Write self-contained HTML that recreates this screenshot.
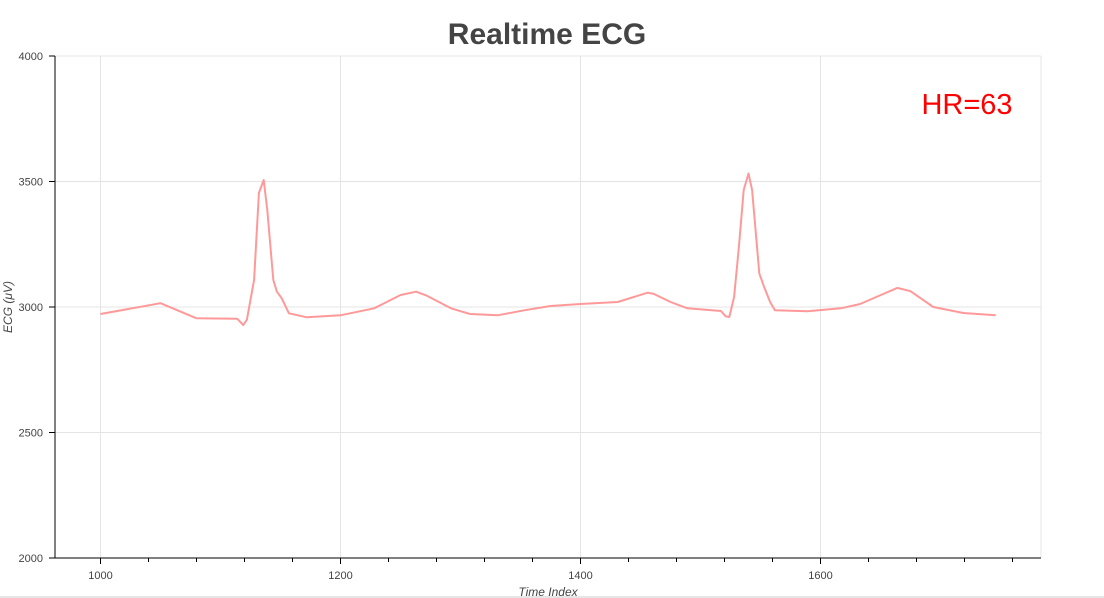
<!DOCTYPE html>
<html><head><meta charset="utf-8"><style>
body{margin:0;background:#fff;width:1104px;height:598px;overflow:hidden}
svg{display:block;font-family:"Liberation Sans",sans-serif}
</style></head><body>
<svg id="chart" width="1104" height="598">
<line x1="0" y1="597" x2="1104" y2="597" stroke="#ccc"/>
<text x="547" y="44" text-anchor="middle" font-size="30" font-weight="bold" fill="#444">Realtime ECG</text>
<text x="967" y="114" text-anchor="middle" font-size="29" fill="#ff0000">HR=63</text>
<text transform="translate(12,307) rotate(-90)" text-anchor="middle" font-size="12" font-style="italic" fill="#444">ECG (μV)</text>
<text x="548" y="596" text-anchor="middle" font-size="12" font-style="italic" fill="#444">Time Index</text>
<g id="grid"></g><g id="axes"></g><g id="series"></g>
</svg>
<script>
const xTicks=[1000,1200,1400,1600];
const yTicks=[2000,2500,3000,3500,4000];
const timeIndex=[1000,1050,1080,1114,1119,1122,1128,1132,1136,1139,1144,1147,1151,1157,1172,1200,1228,1250,1263,1272,1292,1308,1331,1353,1375,1400,1431,1456,1461,1475,1489,1517,1521,1524,1528,1532,1536,1540,1543,1549,1553,1558,1562,1589,1617,1633,1664,1675,1694,1719,1746];
const ecgValues=[2972,3015,2955,2953,2928,2950,3108,3454,3506,3386,3108,3061,3035,2975,2959,2967,2995,3048,3061,3045,2995,2972,2967,2987,3004,3012,3020,3057,3052,3020,2995,2984,2963,2960,3040,3240,3466,3532,3466,3134,3080,3020,2987,2983,2995,3012,3076,3063,3000,2976,2967];
const L=55,R=1041,T=56,B=558;
const xs=v=>100.5+(v-1000)*240/200;
const ys=v=>B-(v-2000)*(B-T)/2000;
const NS='http://www.w3.org/2000/svg';
function mk(tag,attrs,parent){const e=document.createElementNS(NS,tag);for(const k in attrs)e.setAttribute(k,attrs[k]);document.getElementById(parent).appendChild(e);return e;}
xTicks.forEach(t=>{
 const g=mk('line',{x1:xs(t),x2:xs(t),y1:T,y2:B,stroke:'#e4e4e4'},'grid');
 
 
 const tk=mk('line',{x1:xs(t),x2:xs(t),y1:B,y2:B+6,stroke:'#000'},'axes');
 
 
 const lb=mk('text',{x:xs(t),y:B+21,'text-anchor':'middle','font-size':11,fill:'#444'},'axes');
 lb.textContent=t;
 
 
});
for(let t=1000;t<=1760;t+=40){
 if(t%200===0)continue;
 const m=mk('line',{x1:xs(t),x2:xs(t),y1:B,y2:B+4,stroke:'#000'},'axes');
 
 
}
yTicks.forEach(t=>{
 const g=mk('line',{x1:L,x2:R,y1:ys(t),y2:ys(t),stroke:'#e4e4e4'},'grid');
 
 
 const tk=mk('line',{x1:L-6,x2:L,y1:ys(t),y2:ys(t),stroke:'#000'},'axes');
 
 
 const lb=mk('text',{x:L-12,y:ys(t)+4,'text-anchor':'end','font-size':11,fill:'#444'},'axes');
 lb.textContent=t;
 
 
});
const rb=mk('line',{x1:R,x2:R,y1:T,y2:B,stroke:'#e4e4e4'},'grid');


const xa=mk('line',{x1:L,x2:R,y1:B,y2:B,stroke:'#000'},'axes');


const ya=mk('line',{x1:L,x2:L,y1:T,y2:B,stroke:'#000'},'axes');


const pts=timeIndex.map((t,i)=>xs(t).toFixed(1)+','+ys(ecgValues[i]).toFixed(1)).join(' ');
const pl=mk('polyline',{points:pts,fill:'none',stroke:'#f99','stroke-width':2,'stroke-linejoin':'round'},'series');


</script>
</body></html>
